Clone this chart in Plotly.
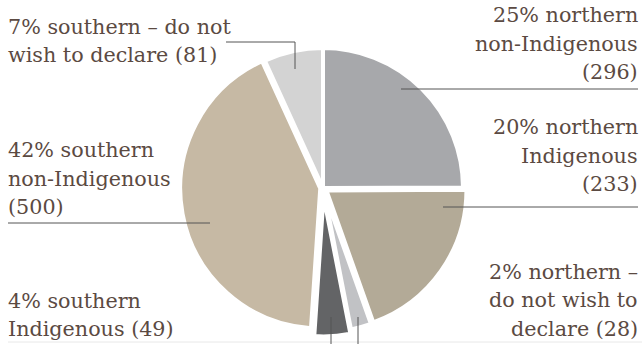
import plotly.graph_objects as go

# ---- data ----
groups = ["northern non-Indigenous", "northern Indigenous", "northern – do not wish to declare",
          "southern Indigenous", "southern non-Indigenous", "southern – do not wish to declare"]
counts = [296, 233, 28, 49, 500, 81]
label_lines = [
    ["25% northern", "non-Indigenous", "(296)"],
    ["20% northern", "Indigenous", "(233)"],
    ["2% northern –", "do not wish to", "declare (28)"],
    ["4% southern", "Indigenous (49)"],
    ["42% southern", "non-Indigenous", "(500)"],
    ["7% southern – do not", "wish to declare (81)"],
]
colors = ["#a7a8ab", "#b3aa97", "#c1c2c5", "#636466", "#c6b9a4", "#d3d3d3"]
pulls = [0.0, 0.03, 0.03, 0.06, 0.02, 0.0]

W, H = 642, 344


def px(x):
    return x / W


def py(y):
    return 1 - y / H


# pie geometry (window pixels)
cx, cy, R = 323, 188, 140
half = R * (1 + max(pulls))
dom_x = [px(cx - half), px(cx + half)]
dom_y = [py(cy + half), py(cy - half)]

fig = go.Figure(go.Pie(
    labels=groups, values=counts, sort=False, direction="clockwise", rotation=0,
    marker=dict(colors=colors, line=dict(color="white", width=4)),
    pull=pulls, textinfo="none", hoverinfo="label+value+percent",
    domain=dict(x=dom_x, y=dom_y),
    showlegend=False,
))

font = dict(family="DejaVu Serif", size=20.7, color="#5b4a42")
LINE_GAP = 28.5
# (label index, x, centre y of first line, anchor)
placements = [
    (0, 640, 15, "right"),
    (1, 640, 127, "right"),
    (2, 640, 271.5, "right"),
    (3, 6, 300.5, "left"),
    (4, 6, 150, "left"),
    (5, 6, 27, "left"),
]
anns = []
for i, x, y0, anc in placements:
    for k, line in enumerate(label_lines[i]):
        anns.append(dict(text=line, x=px(x), y=py(y0 + k * LINE_GAP), xref="paper", yref="paper",
                         xanchor=anc, yanchor="middle", align=anc, showarrow=False, font=font))

line_style = dict(color="#555555", width=1)
leaders = [
    [(401, 89), (638, 89)],
    [(443, 207), (638, 207)],
    [(358, 317), (358, 344)],
    [(331, 317), (331, 344)],
    [(8, 223), (210, 223)],
    [(226, 42), (295, 42), (295, 69)],
]
shapes = []
for pts in leaders:
    path = "M " + " L ".join(f"{px(a)},{py(b)}" for a, b in pts)
    shapes.append(dict(type="path", path=path, xref="paper", yref="paper", line=line_style))
shapes.append(dict(type="line", x0=px(8), x1=1, y0=py(342), y1=py(342), xref="paper", yref="paper",
                   line=dict(color="#e8e8e8", width=1), layer="below"))

fig.update_layout(width=W, height=H, margin=dict(l=0, r=0, t=0, b=0),
                  paper_bgcolor="white", plot_bgcolor="white",
                  annotations=anns, shapes=shapes)
fig.write_html("out.html", config={"displayModeBar": False},
               post_script="document.body.style.margin='0';document.body.style.overflow='hidden';")
